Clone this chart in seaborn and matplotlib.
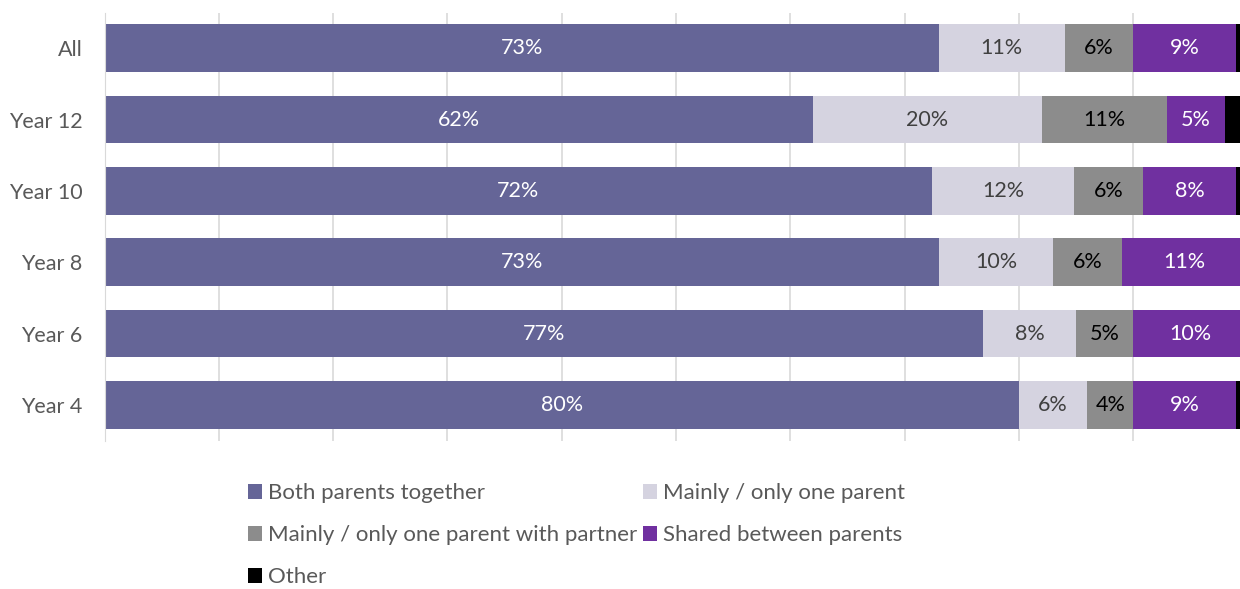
import pandas as pd
import matplotlib.pyplot as plt
import seaborn as sns
from matplotlib.patches import Patch

# Share of pupils by living arrangement (%)
groups = ['All', 'Year 12', 'Year 10', 'Year 8', 'Year 6', 'Year 4']
both_parents = [73.0, 62.0, 72.4, 73.0, 76.9, 80.0]
one_parent = [11.0, 20.0, 12.4, 10.0, 8.1, 6.0]
one_parent_partner = [6.0, 11.0, 6.1, 6.0, 5.0, 4.0]
shared = [9.0, 5.0, 8.1, 11.0, 10.0, 9.0]
other = [1.0, 2.0, 1.0, 0.0, 0.0, 1.0]

series = ['Both parents together', 'Mainly / only one parent',
          'Mainly / only one parent with partner', 'Shared between parents', 'Other']
colors = ['#656597', '#D5D3E0', '#8C8C8C', '#7030A0', '#000000']
label_colors = ['white', '#404040', 'black', 'white', None]

df = pd.DataFrame({'group': groups, series[0]: both_parents, series[1]: one_parent,
                   series[2]: one_parent_partner, series[3]: shared, series[4]: other})
cum = df[series].cumsum(axis=1)

sns.set_style('white')
plt.rcParams['font.family'] = ['Lato', 'DejaVu Sans']

fig = plt.figure(figsize=(12.4, 5.89), dpi=100)
ax = fig.add_axes([104.5 / 1240, 1 - 440.5 / 589, 1143 / 1240, 428 / 589])

# draw cumulative layers from the outermost inwards
for name, col in zip(series[::-1], colors[::-1]):
    sns.barplot(x=cum[name], y=df['group'], color=col, orient='h', width=0.667,
                ax=ax, saturation=1, linewidth=0)

# data labels
for i in range(len(groups)):
    start = 0
    for name, lc in zip(series, label_colors):
        v = df.loc[i, name]
        if lc is not None and v > 0:
            ax.text(start + v / 2, i, f'{v:.0f}%', ha='center', va='center',
                    color=lc, fontsize=15.5)
        start += v

ax.set_xlim(0, 100)
ax.set_xticks(range(0, 101, 10))
ax.set_xticklabels([])
ax.set_xlabel('')
ax.set_ylabel('')
ax.grid(axis='x', color='#D9D9D9', linewidth=1.2)
ax.set_axisbelow(True)
for s in ['top', 'right', 'bottom']:
    ax.spines[s].set_visible(False)
ax.spines['left'].set_color('#D9D9D9')
ax.tick_params(axis='both', length=0)
ax.tick_params(axis='y', labelsize=15.5, labelcolor='#595959', pad=16)

# legend in row-major order
order = [0, 2, 4, 1, 3]
handles = [Patch(facecolor=colors[k], edgecolor='none') for k in order]
labels = [series[k] for k in order]
fig.legend(handles, labels, ncol=2, frameon=False, loc='upper left',
           bbox_to_anchor=(228 / 1240, 1 - 463 / 589), fontsize=16,
           labelcolor='#595959', handlelength=0.65, handleheight=0.65,
           handletextpad=0.25, columnspacing=0.25, labelspacing=1.0)

fig.savefig('out.png', dpi=100)
